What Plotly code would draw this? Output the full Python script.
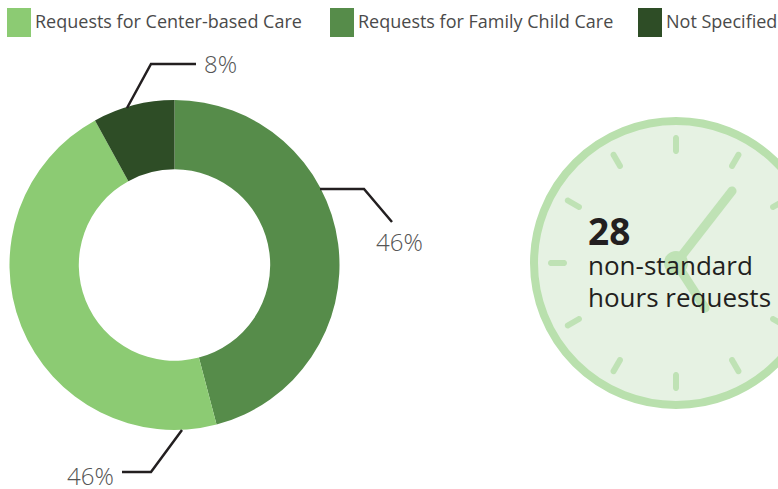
import numpy as np
import plotly.graph_objects as go

W, H = 778, 489
pie_labels = ["Requests for Family Child Care", "Requests for Center-based Care", "Not Specified"]
pie_values = [45.9, 46.1, 8]
pie_colors = ["#568C4A", "#8CCB73", "#2E4D26"]
legend_labels = ["Requests for Center-based Care", "Requests for Family Child Care", "Not Specified"]
legend_colors = ["#8CCB73", "#568C4A", "#2E4D26"]
legend_swatch_x = [7, 330, 638]
value_labels = ["46%", "46%", "8%"]
value_label_pos = [(399.5, 241), (90.5, 475), (221, 63)]
leaders = [[(320, 189), (364, 189), (392, 222)],
           [(182, 430), (151, 472), (122, 472)],
           [(127, 108), (151, 64), (196, 64)]]
count_text = "28"
caption_lines = ["non-standard", "hours requests"]

FONT = "Open Sans"
px = lambda x: x / W
py = lambda y: 1 - y / H

def capsule(x0, y0, x1, y1, w):
    a = np.arctan2(y1 - y0, x1 - x0)
    pts = []
    for t in np.linspace(a + np.pi / 2, a + 3 * np.pi / 2, 12):
        pts.append((x0 + w / 2 * np.cos(t), y0 + w / 2 * np.sin(t)))
    for t in np.linspace(a - np.pi / 2, a + np.pi / 2, 12):
        pts.append((x1 + w / 2 * np.cos(t), y1 + w / 2 * np.sin(t)))
    return "M" + " L".join(f"{px(x):.5f},{py(y):.5f}" for x, y in pts) + " Z"

shapes, annos = [], []
for x, c in zip(legend_swatch_x, legend_colors):
    shapes.append(dict(type="rect", xref="paper", yref="paper", x0=px(x), x1=px(x + 24),
                       y0=py(8), y1=py(37), fillcolor=c, line_width=0))
for x, t in zip(legend_swatch_x, legend_labels):
    annos.append(dict(text=t, x=px(x + 26), y=py(21), xref="paper", yref="paper", xanchor="left",
                      yanchor="middle", showarrow=False, font=dict(family=FONT, size=18, color="#4a4a4a")))
for pts in leaders:
    path = "M" + " L".join(f"{px(x):.5f},{py(y):.5f}" for x, y in pts)
    shapes.append(dict(type="path", xref="paper", yref="paper", path=path, line=dict(color="#231F20", width=2.5)))
for t, (x, y) in zip(value_labels, value_label_pos):
    annos.append(dict(text=t, x=px(x), y=py(y), xref="paper", yref="paper", xanchor="center", yanchor="middle",
                      showarrow=False, font=dict(family=FONT, size=24, color="#555555", weight=300)))

# clock face
cx, cy, R = 676, 263, 142
shapes.append(dict(type="circle", xref="paper", yref="paper", x0=px(cx - R), x1=px(cx + R),
                   y0=py(cy + R), y1=py(cy - R), fillcolor="#E6F2E3", line=dict(color="#B9E0AD", width=8)))
tick_color = "#BFE2B5"
for deg in range(0, 360, 30):
    a = np.radians(deg)
    shapes.append(dict(type="path", xref="paper", yref="paper", fillcolor=tick_color, line_width=0,
                       path=capsule(cx + 112 * np.sin(a), cy - 112 * np.cos(a),
                                    cx + 125 * np.sin(a), cy - 125 * np.cos(a), 6)))
for ex, ey in [(732, 191), (705, 308)]:
    shapes.append(dict(type="path", xref="paper", yref="paper", fillcolor=tick_color, line_width=0,
                       path=capsule(cx, cy, ex, ey, 9)))
shapes.append(dict(type="circle", xref="paper", yref="paper", x0=px(cx - 12), x1=px(cx + 12),
                   y0=py(cy + 12), y1=py(cy - 12), fillcolor=tick_color, line_width=0))

annos.append(dict(text=f"<b>{count_text}</b>", x=px(586), y=py(230), xref="paper", yref="paper", xanchor="left",
                  yanchor="middle", showarrow=False, font=dict(family=FONT, size=37, color="#231F20")))
for t, y in zip(caption_lines, [265, 297]):
    annos.append(dict(text=t, x=px(586), y=py(y), xref="paper", yref="paper", xanchor="left", yanchor="middle",
                      showarrow=False, font=dict(family=FONT, size=26, color="#231F20")))

fig = go.Figure(go.Pie(labels=pie_labels, values=pie_values, hole=0.58, sort=False, direction="clockwise",
                       rotation=0, marker=dict(colors=pie_colors, line_width=0), textinfo="none",
                       domain=dict(x=[px(9.5), px(339.5)], y=[py(430), py(100)])))
fig.update_layout(width=W, height=H, margin=dict(l=0, r=0, t=0, b=0), showlegend=False,
                  paper_bgcolor="white", plot_bgcolor="white", shapes=shapes, annotations=annos)
fig.write_html("out.html", config=dict(displayModeBar=False),
               post_script="document.body.style.margin='0';document.body.style.overflow='hidden';")
